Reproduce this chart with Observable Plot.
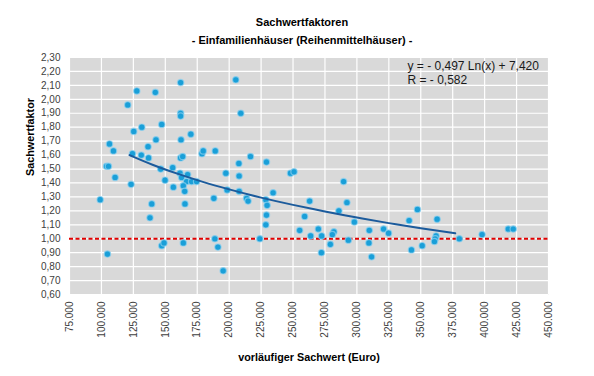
<!DOCTYPE html>
<html>
<head>
<meta charset="utf-8">
<script src="https://cdn.jsdelivr.net/npm/d3@7"></script>
<script src="https://cdn.jsdelivr.net/npm/@observablehq/plot@0.6"></script>
<style>
  html, body { margin: 0; padding: 0; background: #fff; }
  body { width: 594px; height: 376px; overflow: hidden; font-family: "Liberation Sans", Arial, sans-serif; }
  #title { height: 50px; box-sizing: border-box; padding-top: 13px; text-align: center; font-weight: bold; font-size: 11px; line-height: 18px; color: #000; padding-left: 10px; }
  #title div { white-space: nowrap; }
</style>
</head>
<body>
<div id="title"><div>Sachwertfaktoren</div><div>- Einfamilienhäuser (Reihenmittelhäuser) -</div></div>
<div id="chart"></div>
<script>
// Sachwert (Euro) and Sachwertfaktor
const sachwert = [
  99000, 104700, 106300, 109400, 104000, 105500, 110700, 120600, 127700, 142200,
  162000, 162000, 162000, 147200, 131600, 125300, 170000, 142700, 162300, 136500,
  131200, 136900, 124300, 162000, 163600, 178700, 179700, 189100, 146400, 155800,
  161500, 167500, 149800, 156300, 162800, 166700, 170600, 174500, 164100, 165200,
  123200, 197400, 198400, 188000, 139400, 165400, 138000, 147200, 149000, 164100,
  188800, 191200, 195300, 205200, 209100, 216700, 207600, 229200, 207800, 248000,
  250800, 207800, 234400, 213600, 214800, 228700, 229700, 229200, 228700, 224000,
  263000, 259100, 255200, 263800, 269800, 272400, 272200, 279200, 282000, 280800,
  285900, 289600, 292200, 298000, 293300, 309700, 320900, 324800, 309400, 311500,
  340900, 347400, 362800, 342700, 351100, 362000, 361300, 360700, 380200, 398000,
  418500, 422400
];
const faktor = [
  1.28, 0.89, 1.68, 1.63, 1.52, 1.52, 1.44, 1.96, 2.06, 2.05,
  2.12, 1.90, 1.88, 1.82, 1.80, 1.77, 1.75, 1.71, 1.71, 1.66,
  1.60, 1.58, 1.61, 1.58, 1.59, 1.61, 1.63, 1.63, 1.50, 1.51,
  1.47, 1.46, 1.42, 1.37, 1.44, 1.41, 1.41, 1.41, 1.38, 1.34,
  1.39, 1.47, 1.35, 1.29, 1.25, 1.25, 1.15, 0.95, 0.97, 0.97,
  1.00, 0.94, 0.77, 2.14, 1.90, 1.59, 1.54, 1.55, 1.45, 1.47,
  1.48, 1.34, 1.33, 1.29, 1.27, 1.28, 1.24, 1.17, 1.10, 1.00,
  1.27, 1.16, 1.06, 1.02, 1.07, 1.02, 0.90, 0.96, 1.05, 1.03,
  1.20, 1.41, 1.26, 1.12, 0.99, 1.06, 1.07, 1.04, 0.97, 0.87,
  1.13, 1.21, 1.14, 0.92, 0.95, 1.02, 1.00, 0.98, 1.00, 1.03,
  1.07, 1.07
];
// logarithmic trend line
const trendX = [122000, 140000, 160000, 180000, 200000, 225000, 250000, 275000, 300000, 325000, 350000, 377000];
const trendY = [1.600, 1.531, 1.465, 1.406, 1.354, 1.295, 1.243, 1.196, 1.152, 1.112, 1.075, 1.039];
const xTicks = [75000, 100000, 125000, 150000, 175000, 200000, 225000, 250000, 275000, 300000, 325000, 350000, 375000, 400000, 425000, 450000];
const yTicks = [0.6, 0.7, 0.8, 0.9, 1.0, 1.1, 1.2, 1.3, 1.4, 1.5, 1.6, 1.7, 1.8, 1.9, 2.0, 2.1, 2.2, 2.3];
const refValue = [1.0];
const equation = ["y = - 0,497 Ln(x) + 7,420", "R = - 0,582"];

const points = sachwert.map((x, i) => ({x, y: faktor[i]}));
const trend = trendX.map((x, i) => ({x, y: trendY[i]}));

const fmtX = d => d3.format(",")(d).replace(/,/g, ".");
const fmtY = d => d.toFixed(2).replace(".", ",");
const font = "Liberation Sans, Arial, sans-serif";

const chart = Plot.plot({
  width: 594,
  height: 326,
  marginTop: 7,
  marginBottom: 82,
  marginLeft: 69,
  marginRight: 46,
  style: {fontFamily: font, fontSize: "10px", color: "#404040", background: "white"},
  x: {domain: [75000, 450000], ticks: xTicks, tickFormat: fmtX, tickRotate: -90, tickSize: 0, tickPadding: 7, label: null},
  y: {domain: [0.6, 2.3], ticks: yTicks, tickFormat: fmtY, tickSize: 0, tickPadding: 9, label: null},
  marks: [
    Plot.frame({fill: "#d9d9d9", stroke: "none"}),
    Plot.gridX(xTicks, {stroke: "white", strokeOpacity: 1, strokeWidth: 1.2}),
    Plot.gridY(yTicks, {stroke: "white", strokeOpacity: 1, strokeWidth: 1.2}),
    Plot.ruleY(refValue, {stroke: "#e00000", strokeWidth: 2, strokeDasharray: "4,2.5"}),
    Plot.dot(points, {x: "x", y: "y", r: 3.2, fill: "#1a9fd8", stroke: "#8fd2f0", strokeWidth: 1.2, strokeOpacity: 0.7}),
    Plot.line(trend, {x: "x", y: "y", stroke: "#1c5b9c", strokeWidth: 2, curve: "natural"}),
    Plot.text([equation[0]], {frameAnchor: "top-left", dx: 338, dy: 9, textAnchor: "start", lineAnchor: "middle", fontSize: 12, fill: "#1a1a1a"}),
    Plot.text([equation[1]], {frameAnchor: "top-left", dx: 338, dy: 23, textAnchor: "start", lineAnchor: "middle", fontSize: 12, fill: "#1a1a1a"}),
    Plot.text(["Sachwertfaktor"], {frameAnchor: "left", dx: -39, rotate: -90, fontWeight: "bold", fontSize: 10.8, fill: "#000"}),
    Plot.text(["vorläufiger Sachwert (Euro)"], {frameAnchor: "bottom", dy: 66, fontWeight: "bold", fontSize: 10.8, fill: "#000"})
  ]
});
document.getElementById("chart").appendChild(chart);
</script>
</body>
</html>
